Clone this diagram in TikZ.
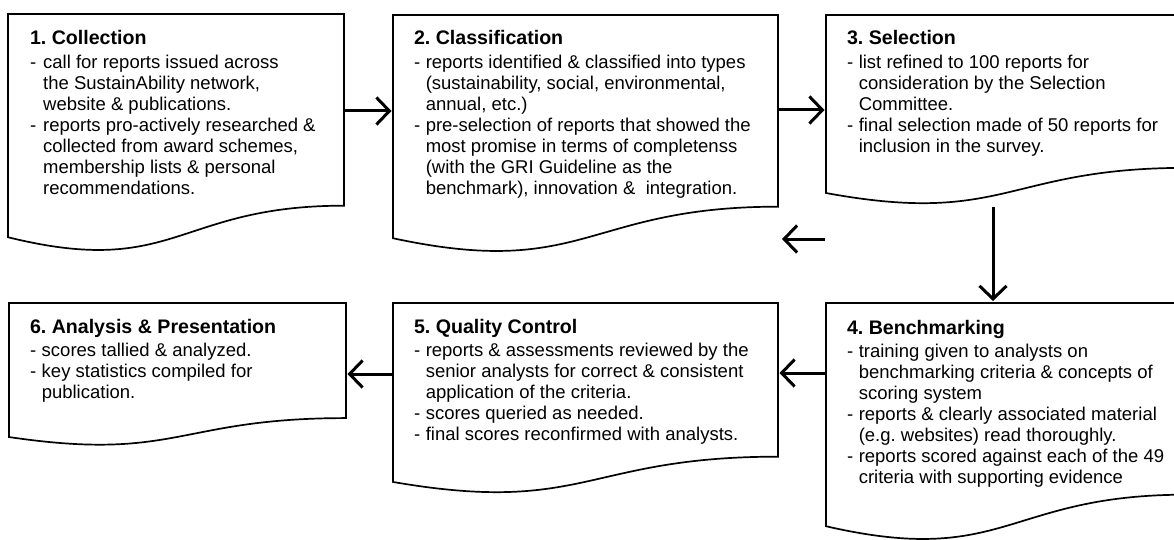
\documentclass[tikz,border=0pt]{standalone}
\usepackage{fontspec}
\setmainfont{Liberation Sans}
\usetikzlibrary{calc,arrows.meta}
\frenchspacing
\newlength\dgap
\setlength\dgap{5.6pt}
\newcommand\docoutline[1]{%
  \draw[boxline] (#1.north west) -- (#1.north east)
    -- ($(#1.north east)!0.802!(#1.south east)$)
    .. controls ($(#1.north)!0.802!(#1.south)$) and ($(#1.north)!1.1075!(#1.south)$)
    .. ($(#1.north west)!0.934!(#1.south west)$) -- cycle;}
\newcommand\ttl[1]{\hbox{\fontsize{19.6}{21}\selectfont\bfseries #1}\kern2.2pt}
\newcommand\bl[1]{\hbox{-\hspace{\dgap}#1}}
\newcommand\cl[1]{\hbox{\hphantom{-}\hspace{\dgap}#1}}
\newcommand\bodyset{\fontsize{18.5}{21.1}\selectfont\baselineskip=21.1pt}
\begin{document}
\begin{tikzpicture}[x=1pt,y=-1pt,
  boxline/.style={draw=black,line width=1.7pt,line join=miter},
  arr/.style={line width=3pt,-{Straight Barb[length=13pt,width=27pt]}},
  docbox/.style={rectangle,inner sep=0pt,outer sep=0pt,anchor=north west},
  txt/.style={inner sep=0pt,outer sep=0pt,anchor=base west}]
\useasboundingbox (0,0) rectangle (1174,540);
\clip (0,0) rectangle (1174,540);
\fill[white] (0,0) rectangle (1174,540);

% box frames
\node[docbox,minimum width=336pt,minimum height=239pt] (b1) at (8,14) {};
\node[docbox,minimum width=385pt,minimum height=239pt] (b2) at (393,15) {};
\node[docbox,minimum width=360pt,minimum height=190.6pt] (b3) at (826,15) {};
\node[docbox,minimum width=360pt,minimum height=239pt] (b4) at (826,303) {};
\node[docbox,minimum width=385pt,minimum height=191.6pt] (b5) at (393,303) {};
\node[docbox,minimum width=337pt,minimum height=143.5pt] (b6) at (9,303) {};
\docoutline{b1}
\docoutline{b2}
\docoutline{b3}
\docoutline{b4}
\docoutline{b5}
\docoutline{b6}

% texts
\node[txt] (t1) at (30,45) {\vtop{\bodyset\setlength\dgap{7pt}%
  \ttl{1. Collection}
  \bl{call for reports issued across}
  \cl{the SustainAbility network,}
  \cl{website \& publications.}
  \bl{reports pro-actively researched \&}
  \cl{collected from award schemes,}
  \cl{membership lists \& personal}
  \cl{recommendations.}}};
\node[txt] (t2) at (414,45) {\vtop{\bodyset
  \ttl{2. Classification}
  \bl{reports identified \& classified into types}
  \cl{(sustainability, social, environmental,}
  \cl{annual, etc.)}
  \bl{pre-selection of reports that showed the}
  \cl{most promise in terms of completenss}
  \cl{(with the GRI Guideline as the}
  \cl{benchmark), innovation \&\ \ integration.}}};
\node[txt] (t3) at (847,45) {\vtop{\bodyset
  \ttl{3. Selection}
  \bl{list refined to 100 reports for}
  \cl{consideration by the Selection}
  \cl{Committee.}
  \bl{final selection made of 50 reports for}
  \cl{inclusion in the survey.}}};
\node[txt] (t4) at (847,334) {\vtop{\bodyset
  \ttl{4. Benchmarking}
  \bl{training given to analysts on}
  \cl{benchmarking criteria \& concepts of}
  \cl{scoring system}
  \bl{reports \& clearly associated material}
  \cl{(e.g. websites) read thoroughly.}
  \bl{reports scored against each of the 49}
  \cl{criteria with supporting evidence}}};
\node[txt] (t5) at (414,333) {\vtop{\bodyset
  \ttl{5. Quality Control}
  \bl{reports \& assessments reviewed by the}
  \cl{senior analysts for correct \& consistent}
  \cl{application of the criteria.}
  \bl{scores queried as needed.}
  \bl{final scores reconfirmed with analysts.}}};
\node[txt] (t6) at (30,333) {\vtop{\bodyset
  \ttl{6. Analysis \& Presentation}
  \bl{scores tallied \& analyzed.}
  \bl{key statistics compiled for}
  \cl{publication.}}};

% connectors
\coordinate (c12) at ([shift={(0,97)}]b1.north east);
\draw[arr,shorten >=1.5pt] (c12) -- (c12 -| b2.west);
\coordinate (c23) at ([shift={(0,95)}]b2.north east);
\draw[arr,shorten >=1.5pt] (c23) -- (c23 -| b3.west);
\coordinate (c34) at ([shift={(167,192)}]b3.north west);
\draw[arr,shorten >=2pt] (c34) -- (c34 |- b4.north);
\coordinate (c45) at ([shift={(0,70)}]b4.north west);
\draw[arr,shorten >=1.5pt] (c45) -- (c45 -| b5.east);
\coordinate (c56) at ([shift={(0,71)}]b5.north west);
\draw[arr,shorten >=1.5pt] (c56) -- (c56 -| b6.east);
\coordinate (s1) at (825,239);
\coordinate (s2) at (782,239);
\draw[arr] (s1) -- (s2);
\end{tikzpicture}
\end{document}
